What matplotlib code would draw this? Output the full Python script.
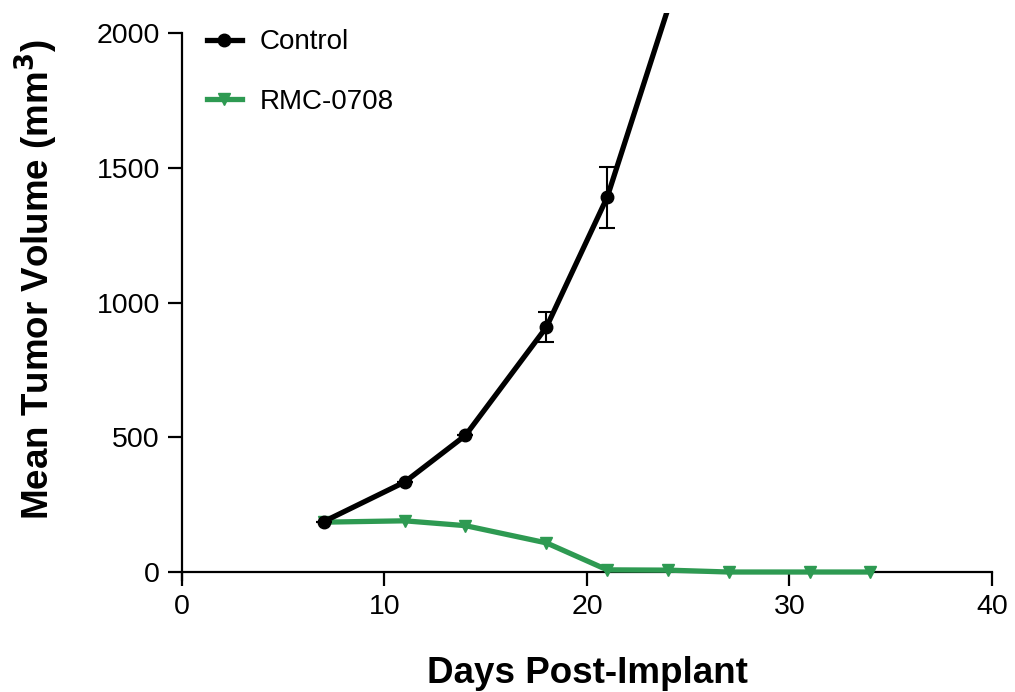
import numpy as np
import matplotlib.pyplot as plt
from matplotlib.lines import Line2D

plt.rcParams['font.family'] = ['Liberation Sans', 'DejaVu Sans']

# tumor volume data (mm^3)
ctrl_days = [7, 11, 14, 18, 21, 24]
ctrl_vol = [187, 334, 507, 909, 1391, 2090]
ctrl_err = [0, 0, 0, 56, 113, 0]

rmc_days = [7, 11, 14, 18, 21, 24, 27, 31, 34]
rmc_vol = [185, 190, 172, 108, 8, 7, 0, 0, 0]

green = '#2e9a52'

fig = plt.figure(figsize=(10.15, 6.92), dpi=100)
ax = fig.add_axes([0.1793, 0.1617, 0.798, 0.8198])

ax.plot(rmc_days, rmc_vol, color=green, lw=3.8, marker='v', ms=8, zorder=3)
# last control point runs off the top, so no marker there
ax.errorbar(ctrl_days, ctrl_vol, yerr=ctrl_err, color='black', lw=3.8,
            marker='o', ms=9, markevery=list(range(len(ctrl_days) - 1)),
            ecolor='black', elinewidth=1.5, capsize=6, capthick=1.5, zorder=4)

ax.set_xlim(0, 40)
ax.set_ylim(-30, 2075)
ax.set_xticks([0, 10, 20, 30, 40])
ax.set_yticks([0, 500, 1000, 1500, 2000])

for s in ['top', 'right']:
    ax.spines[s].set_visible(False)
ax.spines['bottom'].set_position(('data', 0))
ax.spines['left'].set_bounds(-30, 2000)
for s in ['left', 'bottom']:
    ax.spines[s].set_linewidth(1.6)
ax.tick_params(direction='out', length=10, width=1.6, labelsize=20.5, pad=6)

ax.set_xlabel('Days Post-Implant', fontsize=26.5, fontweight='bold', labelpad=26)
ax.set_ylabel('Mean Tumor Volume (mm$^\\mathbf{3}$)', fontsize=26.5,
              fontweight='bold')
ax.yaxis.set_label_coords(-0.151, 0.53)

handles = [Line2D([], [], color='black', lw=3.8, marker='o', ms=9),
           Line2D([], [], color=green, lw=3.8, marker='v', ms=8)]
ax.legend(handles, ['Control', 'RMC-0708'], loc='upper left',
          bbox_to_anchor=(0.0, 1.015), frameon=False, fontsize=20,
          handlelength=1.25, labelspacing=1.2, handletextpad=0.65)

fig.savefig('out.png', dpi=100)
